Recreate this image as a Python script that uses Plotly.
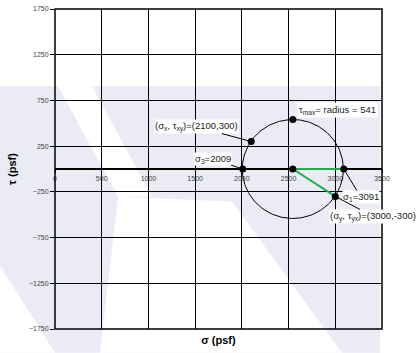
import numpy as np
import plotly.graph_objects as go

# Stress state (psf)
sigma_x, tau_xy = 2100, 300
sigma_y, tau_yx = 3000, -300
center = 2545.5
radius = 541
sigma_1 = 3091
sigma_3 = 2009

x_ticks = [0, 500, 1000, 1500, 2000, 2500, 3000, 3500]
y_ticks = [-1750, -1250, -750, -250, 250, 750, 1250, 1750]

W, H = 418, 353
ML, MR, MT, MB = 55, 36, 5, 24
PW, PH = W - ML - MR, H - MT - MB

FONT = "Arial, Liberation Sans, sans-serif"
GREEN = "#1fae4b"


def px_to_paper(pts):
    return [((x - ML) / PW, (H - MB - y) / PH) for x, y in pts]


def poly_path(pts):
    p = px_to_paper(pts)
    return "M " + " L ".join(f"{a:.4f},{b:.4f}" for a, b in p) + " Z"


fig = go.Figure()

# Mohr's circle outline
theta = np.linspace(0, 2 * np.pi, 241)
fig.add_trace(go.Scatter(
    x=center + radius * np.cos(theta), y=radius * np.sin(theta),
    mode="lines", line=dict(color="black", width=1), xaxis="x",
    hoverinfo="skip", showlegend=False))

# Radius lines to sigma_1 and to (sigma_y, tau_yx)
fig.add_trace(go.Scatter(
    x=[sigma_1, center, sigma_y], y=[0, 0, tau_yx],
    mode="lines", line=dict(color=GREEN, width=2), xaxis="x2",
    showlegend=False))

# Key points
pts_x = [sigma_x, sigma_y, sigma_3, sigma_1, center, center]
pts_y = [tau_xy, tau_yx, 0, 0, radius, 0]
fig.add_trace(go.Scatter(
    x=pts_x, y=pts_y, mode="markers",
    marker=dict(color="black", size=7), xaxis="x2", showlegend=False))

ann_font = dict(family=FONT, size=9.5, color="#222")
lead = dict(showarrow=True, arrowhead=0, arrowwidth=1, arrowcolor="black",
            bgcolor="white", font=ann_font, xref="x2", yref="y", borderpad=0)

fig.add_annotation(x=center, y=radius, text="τ<sub>max</sub>= radius = 541",
                   showarrow=False, xanchor="left", xshift=4, yshift=10,
                   bgcolor="white", xref="x2", yref="y", borderpad=1,
                   font=dict(family=FONT, size=9.5, color="#222"))
fig.add_annotation(x=sigma_x, y=tau_xy,
                   text="(σ<sub>x</sub>, τ<sub>xy</sub>)=(2100,300)",
                   ax=-55, ay=-15, standoff=3, **lead)
fig.add_annotation(x=sigma_3, y=0, text="σ<sub>3</sub>=2009",
                   ax=-30, ay=-10, standoff=3, **lead)
fig.add_annotation(x=sigma_1, y=0, text="σ<sub>1</sub>=3091",
                   ax=17, ay=28, standoff=3, **lead)
fig.add_annotation(x=sigma_y, y=tau_yx,
                   text="(σ<sub>y</sub>, τ<sub>yx</sub>)=(3000,-300)",
                   ax=38, ay=20, standoff=3, **lead)

# Faint background watermark
wm = "rgb(234,235,244)"
white = "white"
bg_polys = [
    ([(0, 83), (380, 83), (380, 353), (0, 353)], wm),
    ([(58, 83), (92, 83), (152, 195), (118, 195)], white),
    ([(118, 195), (232, 200), (342, 353), (100, 353)], white),
    ([(0, 265), (0, 353), (55, 353)], white),
]
shapes = [
    dict(type="path", xref="paper", yref="paper", layer="below",
         path=poly_path(p), fillcolor=c, line=dict(width=0))
    for p, c in bg_polys
]
# plot frame
shapes.append(dict(type="rect", xref="paper", yref="paper",
                   x0=0, x1=1, y0=0, y1=1,
                   line=dict(color="black", width=1.5), layer="above"))

tick_font = dict(family=FONT, size=7, color="#444")

fig.update_layout(
    width=W, height=H,
    margin=dict(l=ML, r=MR, t=MT, b=MB),
    paper_bgcolor="white", plot_bgcolor="rgba(0,0,0,0)",
    shapes=shapes,
    xaxis=dict(range=[0, 3500], showticklabels=False, ticks="",
               tickvals=x_ticks, showgrid=True, gridcolor="black",
               gridwidth=1, zeroline=False,
               title=dict(text="<b>σ (psf)</b>", standoff=7,
                          font=dict(family=FONT, size=11, color="black"))),
    xaxis2=dict(range=[0, 3500], overlaying="x", anchor="free", position=0.5,
                side="bottom", tickvals=x_ticks, ticks="outside", ticklen=3,
                tickcolor="black", tickfont=tick_font, showgrid=False,
                showline=True, linecolor="black", linewidth=1.5,
                zeroline=False, layer="below traces"),
    yaxis=dict(range=[-1750, 1750], tickvals=y_ticks, ticks="outside",
               ticklen=4, tickcolor="black", tickfont=tick_font,
               showgrid=True, gridcolor="black", gridwidth=1,
               zeroline=False,
               title=dict(text="<b>τ (psf)</b>", standoff=10,
                          font=dict(family=FONT, size=11, color="black"))),
)

fig.write_html("out.html")
